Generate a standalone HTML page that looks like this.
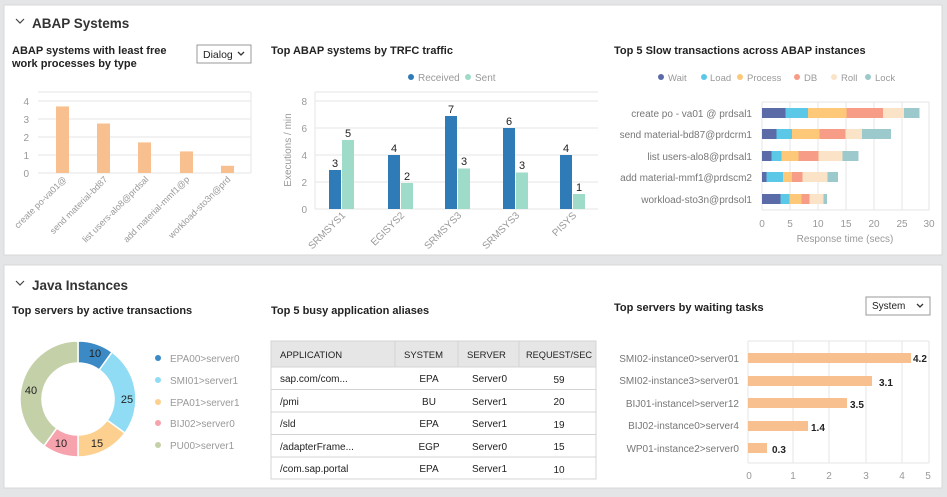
<!DOCTYPE html>
<html><head><meta charset="utf-8"><style>
body{margin:0;width:947px;height:497px;background:#e4e5e7;font-family:"Liberation Sans",sans-serif;overflow:hidden}
svg{position:absolute;left:0;top:0}
</style></head><body>
<svg width="947" height="497" viewBox="0 0 947 497" font-family="Liberation Sans, sans-serif">
<rect x="4" y="5" width="938" height="250" fill="#fff" stroke="#d8d8d8"/>
<rect x="4" y="265" width="938" height="223" fill="#fff" stroke="#d8d8d8"/>
<!-- headers -->
<path d="M16 19 l4 4 l4 -4" fill="none" stroke="#444" stroke-width="1.2"/>
<text x="32" y="28" font-size="13.5" font-weight="bold" fill="#333">ABAP Systems</text>
<path d="M16 281 l4 4 l4 -4" fill="none" stroke="#444" stroke-width="1.2"/>
<text x="32" y="290" font-size="13.5" font-weight="bold" fill="#333">Java Instances</text>

<!-- Chart1 -->
<text x="12" y="54" font-size="11" font-weight="bold" fill="#222">ABAP systems with least free</text>
<text x="12" y="67" font-size="11" font-weight="bold" fill="#222">work processes by type</text>
<rect x="197" y="45" width="54" height="18" fill="#fff" stroke="#999"/>
<text x="203" y="58" font-size="10.5" fill="#222">Dialog</text>
<path d="M238 52 l3 3 l3 -3" fill="none" stroke="#333" stroke-width="1.3"/>
<g stroke="#e6e6e6"><line x1="38" y1="92" x2="251" y2="92"/><line x1="38" y1="101" x2="251" y2="101"/><line x1="38" y1="119" x2="251" y2="119"/><line x1="38" y1="137" x2="251" y2="137"/><line x1="38" y1="155" x2="251" y2="155"/><line x1="38" y1="173" x2="251" y2="173"/><line x1="251" y1="92" x2="251" y2="173"/></g>
<g font-size="10" fill="#999" text-anchor="end"><text x="29" y="105">4</text><text x="29" y="123">3</text><text x="29" y="141">2</text><text x="29" y="159">1</text><text x="29" y="177">0</text></g>
<g fill="#f9c08f"><rect x="56" y="106.4" width="13" height="66.6"/><rect x="97" y="123.5" width="13" height="49.5"/><rect x="138" y="142.4" width="13" height="30.6"/><rect x="180" y="151.4" width="13" height="21.6"/><rect x="221" y="165.8" width="13" height="7.2"/></g>
<g font-size="9" fill="#999" text-anchor="end">
<text transform="translate(67,180) rotate(-45)">create po-va01@</text>
<text transform="translate(108,180) rotate(-45)">send material-bd87</text>
<text transform="translate(149,180) rotate(-45)">list users-alo8@prdsal</text>
<text transform="translate(190,180) rotate(-45)">add material-mmf1@p</text>
<text transform="translate(231,180) rotate(-45)">workload-sto3n@prd</text></g>

<!-- Chart2 -->
<text x="271" y="54" font-size="11" font-weight="bold" fill="#222">Top ABAP systems by TRFC traffic</text>
<circle cx="411" cy="77" r="3" fill="#2e7bb8"/><text x="418" y="81" font-size="10" fill="#999">Received</text>
<circle cx="468" cy="77" r="3" fill="#9fdbc9"/><text x="475" y="81" font-size="10" fill="#999">Sent</text>
<g stroke="#e6e6e6"><line x1="315" y1="92" x2="598" y2="92"/><line x1="315" y1="101" x2="598" y2="101"/><line x1="315" y1="128" x2="598" y2="128"/><line x1="315" y1="155" x2="598" y2="155"/><line x1="315" y1="182" x2="598" y2="182"/><line x1="315" y1="209" x2="598" y2="209"/><line x1="315" y1="92" x2="315" y2="209"/></g>
<g font-size="10" fill="#999" text-anchor="end"><text x="307" y="105">8</text><text x="307" y="132">6</text><text x="307" y="159">4</text><text x="307" y="186">2</text><text x="307" y="213">0</text></g>
<text transform="translate(291,150) rotate(-90)" font-size="10" fill="#999" text-anchor="middle">Executions / min</text>
<g fill="#2e7bb8"><rect x="329" y="170" width="12" height="39"/><rect x="388" y="155" width="12" height="54"/><rect x="445" y="116" width="12" height="93"/><rect x="503" y="128" width="12" height="81"/><rect x="560" y="155" width="12" height="54"/></g>
<g fill="#9fdbc9"><rect x="342" y="140" width="12" height="69"/><rect x="401" y="183" width="12" height="26"/><rect x="458" y="168.5" width="12" height="40.5"/><rect x="516" y="172.5" width="12" height="36.5"/><rect x="573" y="194" width="12" height="15"/></g>
<g font-size="11" fill="#222" text-anchor="middle"><text x="335" y="167">3</text><text x="348" y="137">5</text><text x="394" y="152">4</text><text x="407" y="180">2</text><text x="451" y="113">7</text><text x="464" y="165">3</text><text x="509" y="125">6</text><text x="522" y="169">3</text><text x="566" y="152">4</text><text x="579" y="191">1</text></g>
<g font-size="10" fill="#999" text-anchor="end">
<text transform="translate(346,216) rotate(-45)">SRMSYS1</text><text transform="translate(405,216) rotate(-45)">EGISYS2</text><text transform="translate(462,216) rotate(-45)">SRMSYS3</text><text transform="translate(520,216) rotate(-45)">SRMSYS3</text><text transform="translate(577,216) rotate(-45)">PISYS</text></g>

<!-- Chart3 -->
<text x="614" y="54" font-size="11" font-weight="bold" fill="#222">Top 5 Slow transactions across ABAP instances</text>
<g font-size="9.5" fill="#999">
<circle cx="661" cy="77" r="3" fill="#5b6ba8"/><text x="668" y="81">Wait</text>
<circle cx="704" cy="77" r="3" fill="#5bc8e8"/><text x="710" y="81">Load</text>
<circle cx="740" cy="77" r="3" fill="#fdc878"/><text x="747" y="81">Process</text>
<circle cx="797" cy="77" r="3" fill="#f79c86"/><text x="804" y="81">DB</text>
<circle cx="834" cy="77" r="3" fill="#fae3c6"/><text x="841" y="81">Roll</text>
<circle cx="868" cy="77" r="3" fill="#9cc9cc"/><text x="875" y="81">Lock</text></g>
<g stroke="#e6e6e6"><line x1="762" y1="102" x2="762" y2="210"/><line x1="790" y1="102" x2="790" y2="210"/><line x1="818" y1="102" x2="818" y2="210"/><line x1="846" y1="102" x2="846" y2="210"/><line x1="874" y1="102" x2="874" y2="210"/><line x1="902" y1="102" x2="902" y2="210"/><line x1="929" y1="102" x2="929" y2="210"/><line x1="762" y1="102" x2="929" y2="102"/><line x1="762" y1="210" x2="929" y2="210"/></g>
<g font-size="10" fill="#999" text-anchor="middle"><text x="762" y="227">0</text><text x="790" y="227">5</text><text x="818" y="227">10</text><text x="846" y="227">15</text><text x="874" y="227">20</text><text x="902" y="227">25</text><text x="929" y="227">30</text></g>
<text x="845" y="242" font-size="10" fill="#999" text-anchor="middle">Response time (secs)</text>
<g font-size="10" fill="#777" text-anchor="end"><text x="752" y="117">create po - va01 @ prdsal1</text><text x="752" y="138">send material-bd87@prdcrm1</text><text x="752" y="160">list users-alo8@prdsal1</text><text x="752" y="181">add material-mmf1@prdscm2</text><text x="752" y="203">workload-sto3n@prdsol1</text></g>
<g>
<rect x="762" y="108" width="23.5" height="10" fill="#5b6ba8"/><rect x="785.5" y="108" width="22.5" height="10" fill="#5bc8e8"/><rect x="808" y="108" width="38.5" height="10" fill="#fdc878"/><rect x="846.5" y="108" width="36.5" height="10" fill="#f79c86"/><rect x="883" y="108" width="21" height="10" fill="#fae3c6"/><rect x="904" y="108" width="15.5" height="10" fill="#9cc9cc"/>
<rect x="762" y="129" width="14.5" height="10" fill="#5b6ba8"/><rect x="776.5" y="129" width="15.5" height="10" fill="#5bc8e8"/><rect x="792" y="129" width="27.5" height="10" fill="#fdc878"/><rect x="819.5" y="129" width="26" height="10" fill="#f79c86"/><rect x="845.5" y="129" width="16.5" height="10" fill="#fae3c6"/><rect x="862" y="129" width="29" height="10" fill="#9cc9cc"/>
<rect x="762" y="151" width="9.5" height="10" fill="#5b6ba8"/><rect x="771.5" y="151" width="10" height="10" fill="#5bc8e8"/><rect x="781.5" y="151" width="17" height="10" fill="#fdc878"/><rect x="798.5" y="151" width="20" height="10" fill="#f79c86"/><rect x="818.5" y="151" width="24" height="10" fill="#fae3c6"/><rect x="842.5" y="151" width="16" height="10" fill="#9cc9cc"/>
<rect x="762" y="172" width="4.5" height="10" fill="#5b6ba8"/><rect x="766.5" y="172" width="16.5" height="10" fill="#5bc8e8"/><rect x="783" y="172" width="9" height="10" fill="#fdc878"/><rect x="792" y="172" width="10.5" height="10" fill="#f79c86"/><rect x="802.5" y="172" width="25" height="10" fill="#fae3c6"/><rect x="827.5" y="172" width="10.5" height="10" fill="#9cc9cc"/>
<rect x="762" y="194" width="18.5" height="10" fill="#5b6ba8"/><rect x="780.5" y="194" width="9" height="10" fill="#5bc8e8"/><rect x="789.5" y="194" width="12" height="10" fill="#fdc878"/><rect x="801.5" y="194" width="8" height="10" fill="#f79c86"/><rect x="809.5" y="194" width="14" height="10" fill="#fae3c6"/><rect x="823.5" y="194" width="3.5" height="10" fill="#9cc9cc"/>
</g>

<!-- Donut -->
<text x="12" y="314" font-size="11" font-weight="bold" fill="#222">Top servers by active transactions</text>
<g stroke="#fff" stroke-width="1.5">
<path d="M78 341 A58 58 0 0 1 112.1 352.1 L99.2 369.9 A36 36 0 0 0 78 363 Z" fill="#3b8ac6"/>
<path d="M112.1 352.1 A58 58 0 0 1 124.9 433.1 L107.1 420.2 A36 36 0 0 0 99.2 369.9 Z" fill="#8fdcf4"/>
<path d="M124.9 433.1 A58 58 0 0 1 78 457 L78 435 A36 36 0 0 0 107.1 420.2 Z" fill="#fdd08f"/>
<path d="M78 457 A58 58 0 0 1 43.9 445.9 L56.8 428.1 A36 36 0 0 0 78 435 Z" fill="#f7a3ad"/>
<path d="M43.9 445.9 A58 58 0 0 1 78 341 L78 363 A36 36 0 0 0 56.8 428.1 Z" fill="#c4d0a8"/>
</g>
<g font-size="11" fill="#222" text-anchor="middle"><text x="95" y="357">10</text><text x="127" y="403">25</text><text x="97" y="447">15</text><text x="61" y="447">10</text><text x="31" y="394">40</text></g>
<g font-size="10" fill="#999">
<circle cx="158" cy="358" r="3" fill="#3b8ac6"/><text x="170" y="362">EPA00&gt;server0</text>
<circle cx="158" cy="380" r="3" fill="#8fdcf4"/><text x="170" y="384">SMI01&gt;server1</text>
<circle cx="158" cy="402" r="3" fill="#fdd08f"/><text x="170" y="406">EPA01&gt;server1</text>
<circle cx="158" cy="423" r="3" fill="#f7a3ad"/><text x="170" y="427">BIJ02&gt;server0</text>
<circle cx="158" cy="445" r="3" fill="#c4d0a8"/><text x="170" y="449">PU00&gt;server1</text></g>

<!-- Table -->
<text x="271" y="314" font-size="11" font-weight="bold" fill="#222">Top 5 busy application aliases</text>
<rect x="271" y="341" width="325" height="26" fill="#e6e6e6"/>
<g stroke="#d4d4d4" fill="none"><rect x="271" y="341" width="325" height="138"/>
<line x1="271" y1="367" x2="596" y2="367"/><line x1="271" y1="389.5" x2="596" y2="389.5"/><line x1="271" y1="412" x2="596" y2="412"/><line x1="271" y1="434.5" x2="596" y2="434.5"/><line x1="271" y1="457" x2="596" y2="457"/>
<line x1="395" y1="341" x2="395" y2="367"/><line x1="458" y1="341" x2="458" y2="367"/><line x1="519" y1="341" x2="519" y2="367"/></g>
<g font-size="10" fill="#222"><g font-size="9.5"><text x="280" y="358">APPLICATION</text><text x="404" y="358">SYSTEM</text><text x="467" y="358">SERVER</text><text x="526" y="358" textLength="66" lengthAdjust="spacingAndGlyphs">REQUEST/SEC</text></g>
<text x="280" y="382">sap.com/com...</text><text x="280" y="405">/pmi</text><text x="280" y="427">/sld</text><text x="280" y="450">/adapterFrame...</text><text x="280" y="472">/com.sap.portal</text>
<g text-anchor="middle"><text x="429" y="382">EPA</text><text x="429" y="405">BU</text><text x="429" y="427">EPA</text><text x="429" y="450">EGP</text><text x="429" y="472">EPA</text>
<text x="559" y="383">59</text><text x="559" y="405">20</text><text x="559" y="428">19</text><text x="559" y="450">15</text><text x="559" y="473">10</text></g>
<text x="472" y="382">Server0</text><text x="472" y="405">Server1</text><text x="472" y="427">Server1</text><text x="472" y="450">Server0</text><text x="472" y="472">Server1</text></g>

<!-- Waiting tasks -->
<text x="614" y="311" font-size="11" font-weight="bold" fill="#222">Top servers by waiting tasks</text>
<rect x="866" y="297" width="64" height="18" fill="#fff" stroke="#999"/>
<text x="872" y="309" font-size="10" fill="#222">System</text>
<path d="M917 304 l3 3 l3 -3" fill="none" stroke="#333" stroke-width="1.3"/>
<g stroke="#e6e6e6"><line x1="748" y1="341" x2="748" y2="463"/><line x1="793" y1="341" x2="793" y2="463"/><line x1="829" y1="341" x2="829" y2="463"/><line x1="866" y1="341" x2="866" y2="463"/><line x1="902" y1="341" x2="902" y2="463"/><line x1="929" y1="341" x2="929" y2="463"/><line x1="748" y1="341" x2="929" y2="341"/><line x1="748" y1="463" x2="929" y2="463"/></g>
<g font-size="10" fill="#999" text-anchor="middle"><text x="749" y="479">0</text><text x="793" y="479">1</text><text x="829" y="479">2</text><text x="866" y="479">3</text><text x="902" y="479">4</text><text x="928" y="479">5</text></g>
<g fill="#f9c08f"><rect x="748" y="353" width="163" height="10"/><rect x="748" y="376" width="124" height="10"/><rect x="748" y="398" width="99" height="10"/><rect x="748" y="421" width="60" height="10"/><rect x="748" y="443" width="19" height="10"/></g>
<g font-size="10" font-weight="bold" fill="#222"><text x="913" y="362">4.2</text><text x="879" y="386">3.1</text><text x="850" y="408">3.5</text><text x="811" y="431">1.4</text><text x="772" y="453">0.3</text></g>
<g font-size="10" fill="#777" text-anchor="end"><text x="739" y="362">SMI02-instance0&gt;server01</text><text x="739" y="384">SMI02-instance3&gt;server01</text><text x="739" y="407">BIJ01-instancel&gt;server12</text><text x="739" y="429">BIJ02-instance0&gt;server4</text><text x="739" y="452">WP01-instance2&gt;server0</text></g>
</svg>
</body></html>
